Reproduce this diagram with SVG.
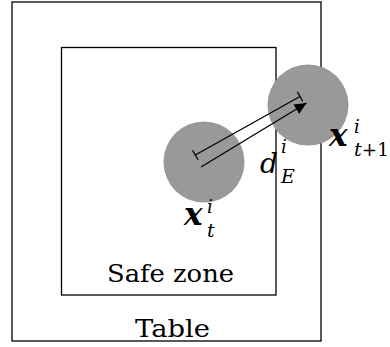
<svg xmlns="http://www.w3.org/2000/svg" width="390" height="347" viewBox="0 0 390 347">
<style>
.frame{fill:none;stroke:#000;stroke-width:1.3}
.disc{fill:#999999}
.ln{stroke:#000;stroke-width:1.3;fill:none}
text{font-family:'DejaVu Serif',serif;fill:#000}
.txt{font-size:25px}
.mx{font-weight:bold;font-style:italic;font-size:31px}
.mi{font-style:italic;font-size:28px}
.sub{font-style:italic;font-size:19px}
.sup{font-style:italic;font-size:18px}
.subr{font-style:normal;font-size:18px}
</style>
<defs>
<marker id="ah" markerWidth="12" markerHeight="11" refX="12" refY="5.5" orient="auto" markerUnits="userSpaceOnUse">
<path d="M0,0 L12,5.5 L0,11 Z" fill="#000"/>
</marker>
</defs>
<g id="table">
<rect class="frame" x="12" y="2" width="309" height="339"/>
<text class="txt" x="135" y="337" textLength="75" lengthAdjust="spacingAndGlyphs">Table</text>
</g>
<g id="safe-zone">
<rect class="frame" x="61.5" y="47.5" width="214.5" height="247.5"/>
<text class="txt" x="107" y="282" textLength="127" lengthAdjust="spacingAndGlyphs">Safe zone</text>
</g>
<g id="object-t">
<circle class="disc" cx="204" cy="162" r="40.5"/>
<text class="mx" x="184" y="225">x</text>
<text class="sup" x="207" y="213">i</text>
<text class="sub" x="207" y="237">t</text>
</g>
<g id="object-t1">
<circle class="disc" cx="308" cy="105" r="40.5"/>
<text class="mx" x="329" y="146">x</text>
<text class="sup" x="354" y="133">i</text>
<text x="354" y="156" textLength="35" lengthAdjust="spacingAndGlyphs"><tspan class="sub">t</tspan><tspan class="subr">+1</tspan></text>
</g>
<g id="connectors">
<line class="ln" x1="195.3" y1="155" x2="300" y2="96.5"/>
<line class="ln" x1="192.6" y1="150.2" x2="198" y2="159.8"/>
<line class="ln" x1="297.3" y1="91.7" x2="302.7" y2="101.3"/>
<line class="ln" x1="201" y1="167" x2="306.5" y2="103" marker-end="url(#ah)"/>
</g>
<g id="label-d">
<text class="mi" x="260" y="173">d</text>
<text class="sup" x="281" y="153">i</text>
<text class="sub" x="281" y="183">E</text>
</g>
</svg>
